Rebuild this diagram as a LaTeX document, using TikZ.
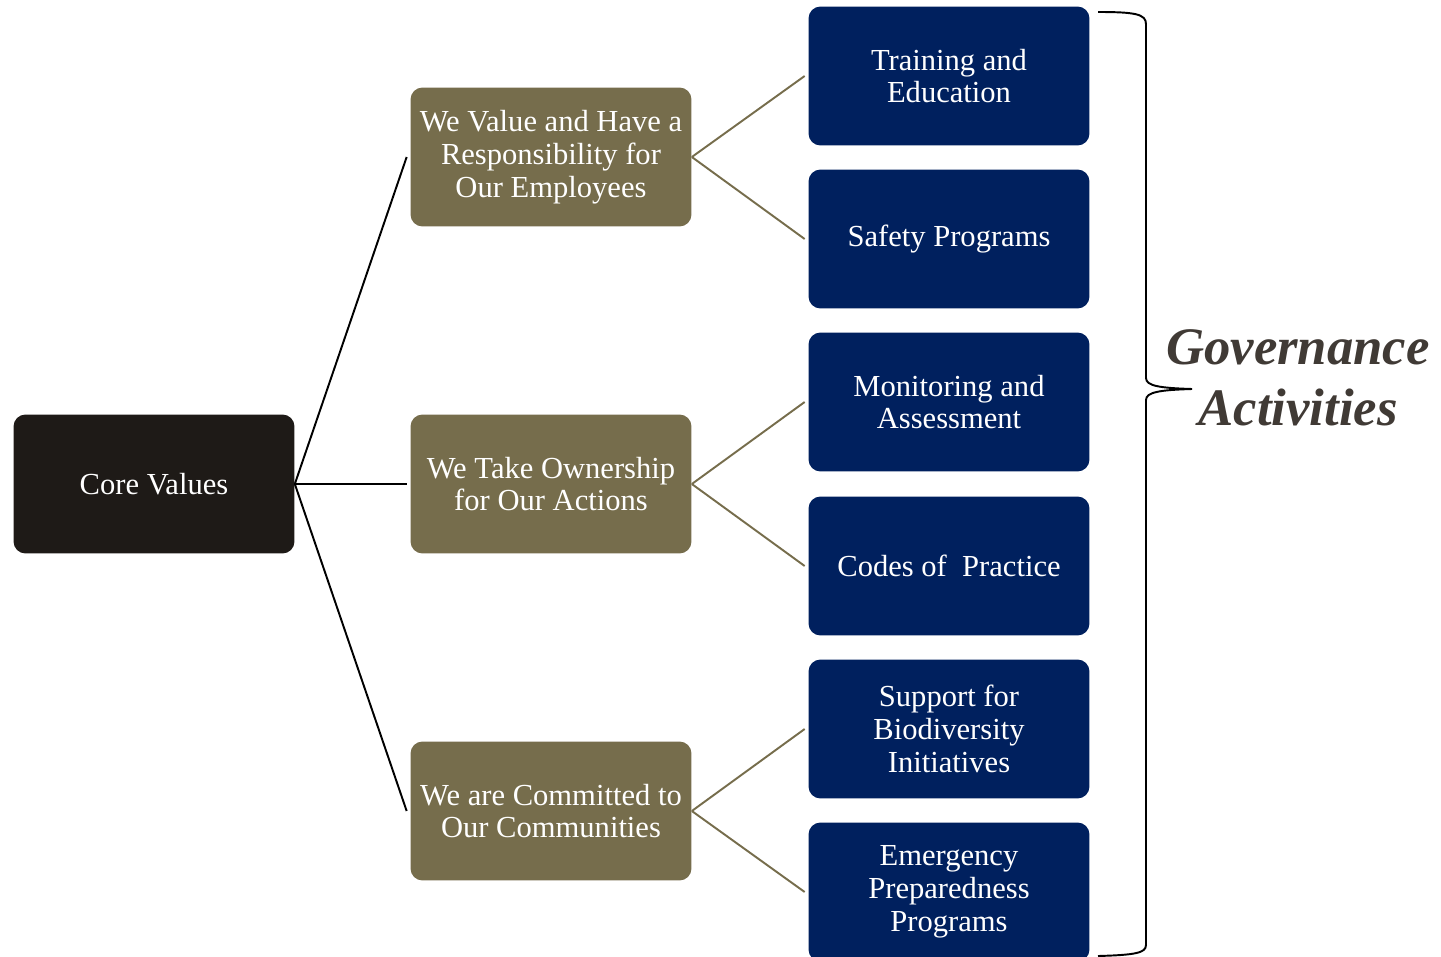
\documentclass[tikz,border=0pt]{standalone}
\usepackage{fontspec}
\setmainfont{Liberation Serif}
\definecolor{corecol}{HTML}{1E1A17}
\definecolor{olivecol}{HTML}{766D4C}
\definecolor{navycol}{HTML}{00205E}
\definecolor{govcol}{HTML}{403A35}
\tikzset{
  box/.style={rounded corners=0.24cm, minimum width=5.62cm, minimum height=2.78cm,
    inner sep=0pt, align=center, text=white,
    font=\fontsize{17.4}{18.7}\selectfont},
  corebox/.style={box, fill=corecol},
  valuebox/.style={box, fill=olivecol},
  activitybox/.style={box, fill=navycol},
  coreline/.style={line width=1.1pt, black},
  valueline/.style={line width=1.1pt, olivecol}
}
\begin{document}
\begin{tikzpicture}[x=0.02cm, y=-0.02cm]
\useasboundingbox (0,0) rectangle (1441,957);
\node[corebox] (core) at (154,484) {Core Values};

\node[valuebox] (employees) at (551,157) {We Value and Have a\\Responsibility for\\Our Employees};
\node[valuebox] (ownership) at (551,484) {We Take Ownership\\for Our Actions};
\node[valuebox] (communities) at (551,811) {We are Committed to\\Our Communities};

\node[activitybox] (training) at (949,76) {Training and\\Education};
\node[activitybox] (safety) at (949,239) {Safety Programs};
\node[activitybox] (monitoring) at (949,402) {Monitoring and\\Assessment};
\node[activitybox] (codes) at (949,566) {Codes of\ \ Practice};
\node[activitybox] (biodiversity) at (949,729) {Support for\\Biodiversity\\Initiatives};
\node[activitybox] (emergency) at (949,892) {Emergency\\Preparedness\\Programs};

\draw[coreline] (core.east) -- ([xshift=-2]employees.west);
\draw[coreline] (core.east) -- ([xshift=-2]ownership.west);
\draw[coreline] (core.east) -- ([xshift=-2]communities.west);

\draw[valueline] (employees.east) -- ([xshift=-2]training.west);
\draw[valueline] (employees.east) -- ([xshift=-2]safety.west);
\draw[valueline] (ownership.east) -- ([xshift=-2]monitoring.west);
\draw[valueline] (ownership.east) -- ([xshift=-2]codes.west);
\draw[valueline] (communities.east) -- ([xshift=-2]biodiversity.west);
\draw[valueline] (communities.east) -- ([xshift=-2]emergency.west);

% brace
\draw[line width=1.1pt] (1098,12) .. controls (1135,12) and (1146,14) .. (1146,24)
  -- (1146,378) .. controls (1146,386) and (1160,388) .. (1192,389)
  .. controls (1160,390) and (1146,392) .. (1146,400)
  -- (1146,945) .. controls (1146,953) and (1135,955) .. (1098,956);
\node[text=govcol, align=center, font=\fontsize{30}{34.5}\selectfont\bfseries\itshape] (gov) at (1298,378) {Governance\\Activities};
\end{tikzpicture}
\end{document}
